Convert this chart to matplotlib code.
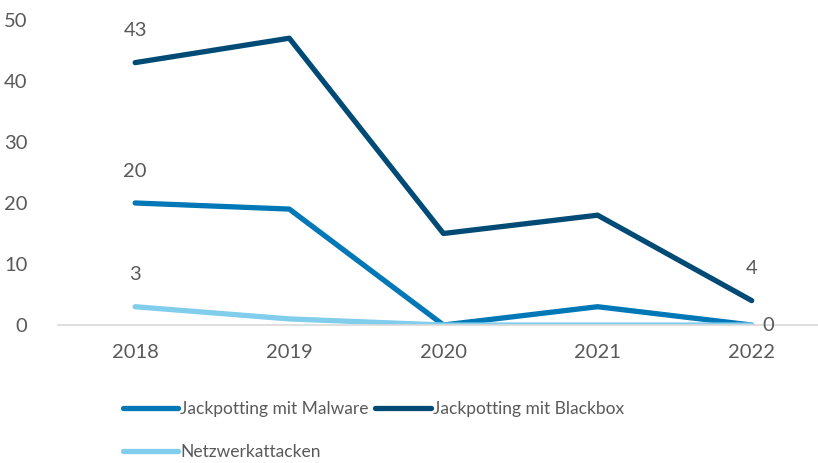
import matplotlib.pyplot as plt

years = ['2018', '2019', '2020', '2021', '2022']
malware = [20, 19, 0, 3, 0]
blackbox = [43, 47, 15, 18, 4]
netzwerk = [3, 1, 0, 0, 0]

plt.rcParams['font.family'] = ['Lato', 'DejaVu Sans']
text_color = '#595959'

fig = plt.figure(figsize=(8.18, 4.63), dpi=100)
ax = fig.add_axes([0.071, 0.298, 0.929, 0.659])

x = list(range(len(years)))
series = [
    (malware, 'Jackpotting mit Malware', '#0077b6'),
    (blackbox, 'Jackpotting mit Blackbox', '#004b76'),
    (netzwerk, 'Netzwerkattacken', '#80cdec'),
]
lines = []
for vals, label, color in series:
    ln, = ax.plot(x, vals, color=color, lw=3.8, solid_capstyle='round',
                  solid_joinstyle='round', label=label)
    lines.append(ln)

# data labels
fs = 14.5
for vals in (malware, blackbox, netzwerk):
    ax.annotate(str(vals[0]), (0, vals[0]), xytext=(0, 23), textcoords='offset points',
                ha='center', va='center', fontsize=fs, color=text_color)
ax.annotate(str(blackbox[-1]), (4, blackbox[-1]), xytext=(0, 23), textcoords='offset points',
            ha='center', va='center', fontsize=fs, color=text_color)
ax.annotate(str(malware[-1]), (4, malware[-1]), xytext=(12, 0), textcoords='offset points',
            ha='center', va='center', fontsize=fs, color=text_color)

ax.set_xlim(-0.5, 4.43)
ax.set_ylim(0, 50)
ax.set_yticks(range(0, 51, 10))
ax.set_xticks(x)
ax.set_xticklabels(years)
ax.tick_params(length=0, labelsize=fs, colors=text_color)
ax.tick_params(axis='x', pad=14)
ax.tick_params(axis='y', pad=22)
for s in ['top', 'right', 'left']:
    ax.spines[s].set_visible(False)
ax.spines['bottom'].set_color('#d9d9d9')
ax.spines['bottom'].set_linewidth(1.2)

# column-major fill: Malware, Netzwerk in column 1, Blackbox in column 2
leg = fig.legend(handles=[lines[0], lines[2], lines[1]], loc='upper left',
                 bbox_to_anchor=(0.150, 0.133), ncol=2, frameon=False,
                 fontsize=12.5, handlelength=3.2, handletextpad=0.1,
                 borderaxespad=0, columnspacing=0.4, labelspacing=1.55,
                 borderpad=0)
for t in leg.get_texts():
    t.set_color(text_color)

fig.savefig('out.png', dpi=100)
